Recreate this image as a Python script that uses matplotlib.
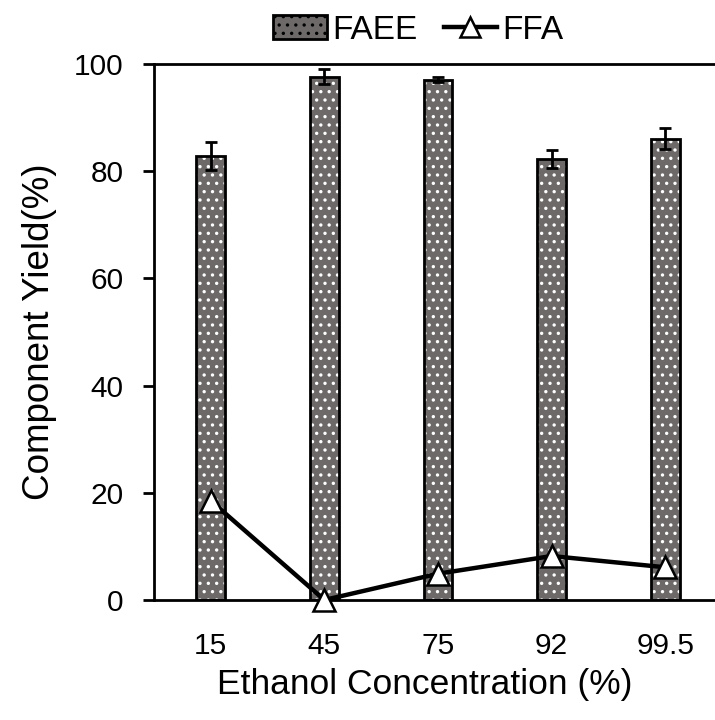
import matplotlib
matplotlib.use('Agg')
import matplotlib.pyplot as plt
from matplotlib.patches import Patch
from matplotlib.lines import Line2D

plt.rcParams['font.family'] = ['Liberation Sans', 'DejaVu Sans']
plt.rcParams['hatch.linewidth'] = 1.2

concentrations = ['15', '45', '75', '92', '99.5']
faee = [82.8, 97.6, 97.1, 82.3, 86.1]
faee_err = [2.6, 1.4, 0.5, 1.7, 1.9]
ffa = [18.5, 0.0, 4.9, 8.2, 6.1]

bar_grey = '#6d6969'

fig = plt.figure(figsize=(7.15, 7.2), dpi=100)
ax = fig.add_axes([0.2154, 0.1667, 0.7944, 0.7444])

x = list(range(len(concentrations)))

# fill with white dots first, then the black outline on top
ax.bar(x, faee, width=0.255, color=bar_grey, edgecolor='white', hatch='..',
       linewidth=0, zorder=2)
ax.bar(x, faee, width=0.255, facecolor='none', edgecolor='black',
       linewidth=2, zorder=3)
ax.errorbar(x, faee, yerr=faee_err, fmt='none', ecolor='black', elinewidth=2,
            capsize=4.5, capthick=2, zorder=4)

ax.plot(x, ffa, color='black', lw=3.2, marker='^', ms=16,
        markerfacecolor='white', markeredgecolor='black', markeredgewidth=1.8,
        zorder=5, clip_on=False)

ax.set_xlim(-0.5, 4.5)
ax.set_ylim(0, 100)
ax.set_yticks([0, 20, 40, 60, 80, 100])
ax.set_xticks(x)
ax.set_xticklabels(concentrations)

for s in ax.spines.values():
    s.set_linewidth(2)

ax.tick_params(axis='y', direction='out', length=8, width=2, pad=14,
               labelsize=21.5)
ax.tick_params(axis='x', length=0, pad=23, labelsize=21.5)

ax.set_ylabel('Component Yield(%)', fontsize=26.5, labelpad=12)
ax.set_xlabel('Ethanol Concentration (%)', fontsize=25.5)
# the plot area runs past the right edge of the image, so centre on the visible part
ax.xaxis.set_label_coords(0.477, -0.127)
ax.xaxis.label.set_verticalalignment('top')

handles = [
    Patch(facecolor=bar_grey, edgecolor='black', hatch='..', linewidth=2),
    Line2D([], [], color='black', lw=3.2, marker='^', ms=14,
           markerfacecolor='white', markeredgecolor='black', markeredgewidth=1.8),
]
fig.legend(handles, ['FAEE', 'FFA'], loc='center', ncol=2,
           bbox_to_anchor=(0.585, 0.958), frameon=False, fontsize=24,
           handlelength=1.6, handleheight=0.75, handletextpad=0.15,
           columnspacing=0.8)

fig.savefig('out.png', dpi=100)
